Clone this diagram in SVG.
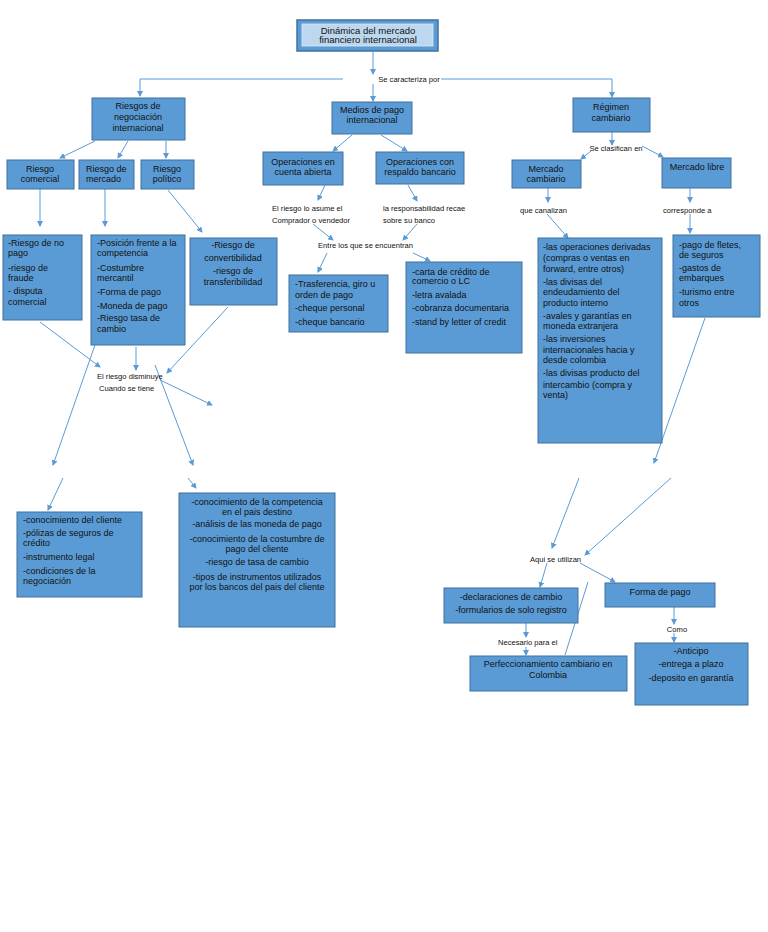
<svg xmlns="http://www.w3.org/2000/svg" width="768" height="932" viewBox="0 0 768 932">
<style>
.b{fill:#5b9bd5;stroke:#41719c;stroke-width:1}
.t{font-family:"Liberation Sans",Arial,sans-serif;font-size:9px;fill:#111}
.c{text-anchor:middle}
.l{font-family:"Liberation Sans",Arial,sans-serif;font-size:7.6px;fill:#111}
.k line,.k path{stroke:#5b9bd5;stroke-width:1;fill:none}
.a{marker-end:url(#ar)}
</style>
<defs>
<marker id="ar" markerUnits="userSpaceOnUse" markerWidth="6" markerHeight="6" refX="5" refY="3" orient="auto">
<path d="M0,0 L6,3 L0,6 z" fill="#5b9bd5"/>
</marker>
</defs>
<rect width="768" height="932" fill="#fff"/>

<g id="connectors" class="k">
<line x1="373" y1="52" x2="373" y2="74" class="a"/>
<path d="M343,79 L140,79 L140,96" class="a"/>
<line x1="373" y1="84" x2="373" y2="101" class="a"/>
<path d="M441,79 L612,79 L612,97" class="a"/>
<line x1="95" y1="141" x2="60" y2="158" class="a"/>
<line x1="128" y1="141" x2="118" y2="158" class="a"/>
<line x1="166" y1="141" x2="166" y2="158" class="a"/>
<line x1="352" y1="135" x2="333" y2="151" class="a"/>
<line x1="381" y1="135" x2="407" y2="151" class="a"/>
<line x1="612" y1="132" x2="612" y2="145" class="a"/>
<line x1="591" y1="151" x2="581" y2="159" class="a"/>
<line x1="642" y1="146" x2="663" y2="157" class="a"/>
<line x1="40" y1="189" x2="40" y2="226" class="a"/>
<line x1="105" y1="189" x2="105" y2="226" class="a"/>
<line x1="168" y1="190" x2="202" y2="232" class="a"/>
<line x1="325" y1="185" x2="318" y2="200" class="a"/>
<line x1="408" y1="185" x2="417" y2="201" class="a"/>
<line x1="313" y1="224" x2="333" y2="240" class="a"/>
<line x1="417" y1="224" x2="403" y2="240" class="a"/>
<line x1="327" y1="253" x2="318" y2="272" class="a"/>
<line x1="413" y1="253" x2="430" y2="261" class="a"/>
<line x1="548" y1="188" x2="548" y2="202" class="a"/>
<line x1="547" y1="214" x2="568" y2="238" class="a"/>
<line x1="690" y1="188" x2="690" y2="202" class="a"/>
<line x1="690" y1="214" x2="690" y2="233" class="a"/>
<line x1="705" y1="318" x2="654" y2="463" class="a"/>
<line x1="579" y1="478" x2="552" y2="548" class="a"/>
<line x1="671" y1="478" x2="585" y2="555" class="a"/>
<line x1="547" y1="563" x2="540" y2="587" class="a"/>
<line x1="580" y1="563" x2="615" y2="582" class="a"/>
<line x1="588" y1="582" x2="565" y2="655"/>
<line x1="526" y1="623" x2="526" y2="637" class="a"/>
<line x1="526" y1="647" x2="526" y2="655" class="a"/>
<line x1="674" y1="607" x2="674" y2="624" class="a"/>
<line x1="674" y1="633" x2="674" y2="642" class="a"/>
<line x1="40" y1="322" x2="100" y2="367" class="a"/>
<line x1="136" y1="347" x2="136" y2="370" class="a"/>
<line x1="228" y1="307" x2="167" y2="373" class="a"/>
<line x1="160" y1="380" x2="212" y2="405" class="a"/>
<line x1="95" y1="345" x2="53" y2="465" class="a"/>
<line x1="155" y1="365" x2="193" y2="465" class="a"/>
<line x1="63" y1="478" x2="48" y2="510" class="a"/>
<line x1="188" y1="478" x2="196" y2="488" class="a"/>
</g>

<g id="labels">
<text class="l c" x="409" y="82">Se caracteriza por</text>
<text class="l c" x="616" y="151">Se clasifican en</text>
<text class="l" x="272" y="211">El riesgo lo asume el</text>
<text class="l" x="272" y="223">Comprador o vendedor</text>
<text class="l" x="383" y="211">la responsabilidad recae</text>
<text class="l" x="383" y="223">sobre su banco</text>
<text class="l" x="318" y="248">Entre los que se encuentran</text>
<text class="l" x="520" y="213">que canalizan</text>
<text class="l" x="663" y="213">corresponde a</text>
<text class="l" x="97" y="379">El riesgo disminuye</text>
<text class="l" x="99" y="391">Cuando se tiene</text>
<text class="l" x="530" y="562">Aqui se utilizan</text>
<text class="l" x="498" y="645">Necesario para el</text>
<text class="l c" x="677" y="632">Como</text>
</g>

<g id="n-title">
<rect x="297" y="20" width="141" height="31" fill="#5b9bd5" stroke="#41719c" stroke-width="1.5"/>
<rect x="302" y="24" width="131" height="22" fill="#bdd7ee" stroke="#dfeaf6" stroke-width="0.8"/>
<text class="t c" x="368" y="33.5" style="font-size:9.5px">Dinámica del mercado</text>
<text class="t c" x="368" y="43" style="font-size:9.5px">financiero internacional</text>
</g>

<g id="n-riesgos">
<rect class="b" x="92" y="98" width="93" height="42"/>
<text class="t c" x="138" y="109">Riesgos de</text>
<text class="t c" x="138" y="120">negociación</text>
<text class="t c" x="138" y="131">internacional</text>
</g>

<g id="n-medios">
<rect class="b" x="332" y="102" width="80" height="32"/>
<text class="t c" x="372" y="113">Medios de pago</text>
<text class="t c" x="372" y="123">internacional</text>
</g>

<g id="n-regimen">
<rect class="b" x="573" y="98" width="77" height="34"/>
<text class="t c" x="611" y="110">Régimen</text>
<text class="t c" x="611" y="121">cambiario</text>
</g>

<g id="n-comercial">
<rect class="b" x="7" y="160" width="67" height="29"/>
<text class="t c" x="40" y="172">Riesgo</text>
<text class="t c" x="40" y="182">comercial</text>
</g>

<g id="n-mercado">
<rect class="b" x="79" y="160" width="55" height="29"/>
<text class="t" x="86" y="172">Riesgo de</text>
<text class="t" x="86" y="182">mercado</text>
</g>

<g id="n-politico">
<rect class="b" x="141" y="160" width="53" height="29"/>
<text class="t c" x="167" y="172">Riesgo</text>
<text class="t c" x="167" y="182">político</text>
</g>

<g id="n-op-abierta">
<rect class="b" x="263" y="152" width="80" height="33"/>
<text class="t c" x="303" y="165">Operaciones en</text>
<text class="t c" x="303" y="175">cuenta abierta</text>
</g>

<g id="n-op-respaldo">
<rect class="b" x="376" y="152" width="88" height="32"/>
<text class="t c" x="420" y="165">Operaciones con</text>
<text class="t c" x="420" y="175">respaldo bancario</text>
</g>

<g id="n-m-cambiario">
<rect class="b" x="512" y="160" width="69" height="28"/>
<text class="t c" x="546" y="172">Mercado</text>
<text class="t c" x="546" y="182">cambiario</text>
</g>

<g id="n-m-libre">
<rect class="b" x="662" y="158" width="69" height="30"/>
<text class="t c" x="697" y="170">Mercado libre</text>
</g>

<g id="n-comercial-det">
<rect class="b" x="3" y="235" width="79" height="85"/>
<text class="t" x="8" y="246">-Riesgo de no</text>
<text class="t" x="8" y="256">pago</text>
<text class="t" x="8" y="271">-riesgo de</text>
<text class="t" x="8" y="281">fraude</text>
<text class="t" x="8" y="294">- disputa</text>
<text class="t" x="8" y="305">comercial</text>
</g>

<g id="n-mercado-det">
<rect class="b" x="91" y="235" width="94" height="110"/>
<text class="t" x="97" y="246">-Posición frente a la</text>
<text class="t" x="97" y="256">competencia</text>
<text class="t" x="97" y="271">-Costumbre</text>
<text class="t" x="97" y="281">mercantil</text>
<text class="t" x="97" y="295">-Forma de pago</text>
<text class="t" x="97" y="309">-Moneda de pago</text>
<text class="t" x="97" y="321">-Riesgo tasa de</text>
<text class="t" x="97" y="332">cambio</text>
</g>

<g id="n-politico-det">
<rect class="b" x="190" y="238" width="87" height="67"/>
<text class="t c" x="233" y="248">-Riesgo de</text>
<text class="t c" x="233" y="261">convertibilidad</text>
<text class="t c" x="233" y="274">-riesgo de</text>
<text class="t c" x="233" y="285">transferibilidad</text>
</g>

<g id="n-trasferencia">
<rect class="b" x="289" y="275" width="99" height="57"/>
<text class="t" x="295" y="287">-Trasferencia, giro u</text>
<text class="t" x="295" y="298">orden de pago</text>
<text class="t" x="295" y="311">-cheque personal</text>
<text class="t" x="295" y="325">-cheque bancario</text>
</g>

<g id="n-carta">
<rect class="b" x="406" y="262" width="116" height="91"/>
<text class="t" x="412" y="275">-carta de crédito de</text>
<text class="t" x="412" y="284">comercio o LC</text>
<text class="t" x="412" y="298">-letra avalada</text>
<text class="t" x="412" y="311">-cobranza documentaria</text>
<text class="t" x="412" y="325">-stand by letter of credit</text>
</g>

<g id="n-operaciones">
<rect class="b" x="538" y="238" width="124" height="205"/>
<text class="t" x="543" y="250">-las operaciones derivadas</text>
<text class="t" x="543" y="261">(compras o ventas en</text>
<text class="t" x="543" y="272">forward, entre otros)</text>
<text class="t" x="543" y="285">-las divisas del</text>
<text class="t" x="543" y="295">endeudamiento del</text>
<text class="t" x="543" y="306">producto interno</text>
<text class="t" x="543" y="319">-avales y garantías en</text>
<text class="t" x="543" y="329">moneda extranjera</text>
<text class="t" x="543" y="342">-las inversiones</text>
<text class="t" x="543" y="353">internacionales hacia y</text>
<text class="t" x="543" y="363">desde colombia</text>
<text class="t" x="543" y="376">-las divisas producto del</text>
<text class="t" x="543" y="388">intercambio (compra y</text>
<text class="t" x="543" y="398">venta)</text>
</g>

<g id="n-fletes">
<rect class="b" x="673" y="235" width="87" height="82"/>
<text class="t" x="679" y="248">-pago de fletes,</text>
<text class="t" x="679" y="258">de seguros</text>
<text class="t" x="679" y="271">-gastos de</text>
<text class="t" x="679" y="281">embarques</text>
<text class="t" x="679" y="295">-turismo entre</text>
<text class="t" x="679" y="306">otros</text>
</g>

<g id="n-cliente">
<rect class="b" x="17" y="512" width="125" height="85"/>
<text class="t" x="23" y="523">-conocimiento del cliente</text>
<text class="t" x="23" y="536">-pólizas de seguros de</text>
<text class="t" x="23" y="546">crédito</text>
<text class="t" x="23" y="560">-instrumento legal</text>
<text class="t" x="23" y="574">-condiciones de la</text>
<text class="t" x="23" y="584">negociación</text>
</g>

<g id="n-competencia">
<rect class="b" x="179" y="493" width="156" height="134"/>
<text class="t c" x="257" y="505">-conocimiento de la competencia</text>
<text class="t c" x="257" y="515">en el pais destino</text>
<text class="t c" x="257" y="527">-análisis de las moneda de pago</text>
<text class="t c" x="257" y="542">-conocimiento de la costumbre de</text>
<text class="t c" x="257" y="552">pago del cliente</text>
<text class="t c" x="257" y="565">-riesgo de tasa de cambio</text>
<text class="t c" x="257" y="580">-tipos de instrumentos utilizados</text>
<text class="t c" x="257" y="590">por los bancos del pais del cliente</text>
</g>

<g id="n-declaraciones">
<rect class="b" x="444" y="588" width="134" height="35"/>
<text class="t c" x="511" y="600">-declaraciones de cambio</text>
<text class="t c" x="511" y="613">-formularios de solo registro</text>
</g>

<g id="n-forma">
<rect class="b" x="605" y="583" width="110" height="24"/>
<text class="t c" x="660" y="595">Forma de pago</text>
</g>

<g id="n-perfeccionamiento">
<rect class="b" x="470" y="656" width="157" height="35"/>
<text class="t c" x="548" y="667">Perfeccionamiento cambiario en</text>
<text class="t c" x="548" y="678">Colombia</text>
</g>

<g id="n-anticipo">
<rect class="b" x="635" y="643" width="113" height="62"/>
<text class="t c" x="691" y="654">-Anticipo</text>
<text class="t c" x="691" y="667">-entrega a plazo</text>
<text class="t c" x="691" y="681">-deposito en garantía</text>
</g>
</svg>
